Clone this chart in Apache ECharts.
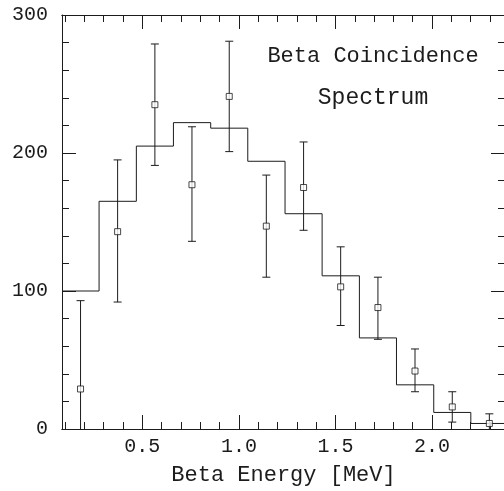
<!DOCTYPE html>
<html>
<head>
<meta charset="utf-8">
<script src="https://cdn.jsdelivr.net/npm/echarts@6/dist/echarts.min.js"></script>
<style>
  html, body { margin: 0; padding: 0; background: #fff; }
  #chart { width: 504px; height: 491px; }
</style>
</head>
<body>
<div id="chart"></div>
<script>
// histogram (fit) : bin edges and heights
var binEdges = [0.084, 0.276, 0.469, 0.661, 0.854, 1.046, 1.239, 1.431, 1.624, 1.816, 2.009, 2.201, 2.394];
var fitCounts = [100, 165, 205, 222, 218, 194, 156, 111, 66, 32, 12, 4];

// measured points with error bars
var energies = [0.180, 0.372, 0.565, 0.757, 0.950, 1.142, 1.335, 1.527, 1.720, 1.912, 2.105, 2.297];
var counts = [29, 143, 235, 177, 241, 147, 175, 103, 88, 42, 16, 4];
var errHigh = [93, 195, 279, 219, 281, 184, 208, 132, 110, 58, 27, 11];
var errLow = [-35, 92, 191, 136, 201, 110, 144, 75, 65, 27, 5, -3];

// ticks
var xMajorTicks = [0.5, 1.0, 1.5, 2.0];
var xMinorTicks = [0.1, 0.2, 0.3, 0.4, 0.6, 0.7, 0.8, 0.9, 1.1, 1.2, 1.3, 1.4,
                   1.6, 1.7, 1.8, 1.9, 2.1, 2.2, 2.3];

var ink = '#1c1c1c';
var font = "'Liberation Mono', 'DejaVu Sans Mono', monospace";

var stepData = binEdges.map(function (e, i) {
    return [e, fitCounts[Math.min(i, fitCounts.length - 1)]];
});
var points = energies.map(function (x, i) { return [x, counts[i]]; });
var bars = energies.map(function (x, i) { return [x, errLow[i], errHigh[i]]; });

function xAxisDef(pos, ticks, len, labels) {
    return {
        type: 'value', position: pos, min: 0.084, max: 2.378,
        axisLine: { show: true, lineStyle: { color: ink, width: 1 } },
        axisTick: { show: true, inside: true, length: len, customValues: ticks,
                    lineStyle: { color: ink, width: 1 } },
        axisLabel: labels ? {
            show: true, customValues: ticks, margin: 8,
            color: ink, fontSize: 20, fontFamily: font,
            formatter: function (v) { return v.toFixed(1); }
        } : { show: false },
        splitLine: { show: false }
    };
}

function yAxisDef(pos, labels) {
    return {
        type: 'value', position: pos, min: 0, max: 300, interval: 100,
        axisLine: { show: true, lineStyle: { color: ink, width: 1 } },
        axisTick: { show: true, inside: true, length: 14, lineStyle: { color: ink } },
        minorTick: { show: true, splitNumber: 5, length: 7, lineStyle: { color: ink } },
        axisLabel: labels ? { show: true, margin: 14, color: ink, fontSize: 20, fontFamily: font }
                          : { show: false },
        splitLine: { show: false }
    };
}

var chart = echarts.init(document.getElementById('chart'));

var xBottom = xAxisDef('bottom', xMajorTicks, 14, true);
xBottom.name = 'Beta Energy [MeV]';
xBottom.nameLocation = 'middle';
xBottom.nameGap = 35;
xBottom.nameTextStyle = { color: ink, fontSize: 22, fontFamily: font };

var yLeft = yAxisDef('left', true);
yLeft.name = 'Counts';
yLeft.nameLocation = 'middle';
yLeft.nameGap = 33;
yLeft.nameTextStyle = { color: ink, fontSize: 20, fontFamily: font };

chart.setOption({
    animation: false,
    backgroundColor: '#fff',
    grid: { left: 62, top: 15, right: -1, bottom: 62, containLabel: false, outerBoundsMode: 'none' },
    xAxis: [
        xBottom,
        xAxisDef('bottom', xMinorTicks, 7, false),
        xAxisDef('top', xMajorTicks, 14, false),
        xAxisDef('top', xMinorTicks, 7, false)
    ],
    yAxis: [yLeft, yAxisDef('right', false)],
    graphic: [
        { type: 'text', x: 373, y: 56,
          style: { text: 'Beta Coincidence', align: 'center', verticalAlign: 'middle',
                   fill: ink, fontSize: 22, fontFamily: font } },
        { type: 'text', x: 373, y: 98,
          style: { text: 'Spectrum', align: 'center', verticalAlign: 'middle',
                   fill: ink, fontSize: 23, fontFamily: font } }
    ],
    series: [
        {
            type: 'line', step: 'end', data: stepData,
            showSymbol: false, symbol: 'none',
            lineStyle: { color: ink, width: 1 }
        },
        {
            type: 'custom', data: bars, clip: true,
            renderItem: function (params, api) {
                var x = api.value(0);
                var lo = api.coord([x, api.value(1)]);
                var hi = api.coord([x, api.value(2)]);
                var w = 4;
                var st = { stroke: ink, lineWidth: 1 };
                return {
                    type: 'group',
                    children: [
                        { type: 'line', shape: { x1: hi[0], y1: hi[1], x2: lo[0], y2: lo[1] }, style: st },
                        { type: 'line', shape: { x1: hi[0] - w, y1: hi[1], x2: hi[0] + w, y2: hi[1] }, style: st },
                        { type: 'line', shape: { x1: lo[0] - w, y1: lo[1], x2: lo[0] + w, y2: lo[1] }, style: st }
                    ]
                };
            },
            z: 3
        },
        {
            type: 'scatter', data: points, symbol: 'rect', symbolSize: 6,
            itemStyle: { color: '#fff', borderColor: ink, borderWidth: 1 },
            z: 4
        }
    ]
});
</script>
</body>
</html>
